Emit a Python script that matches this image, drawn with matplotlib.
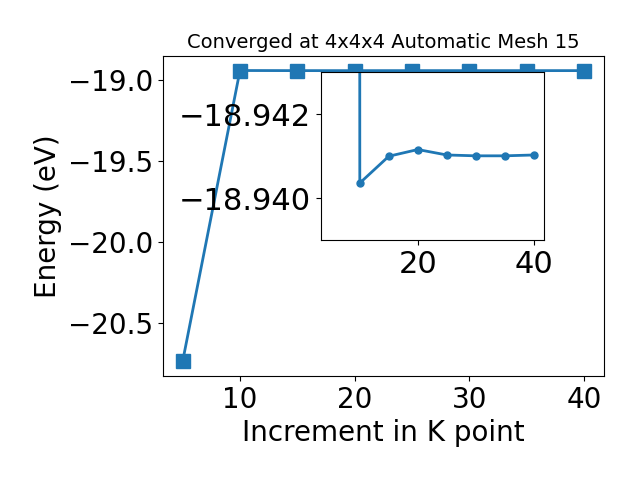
import matplotlib
matplotlib.use("Agg")
import matplotlib.pyplot as plt
from matplotlib.ticker import ScalarFormatter

kpoints = [5, 10, 15, 20, 25, 30, 35, 40]
energy = [-20.738, -18.94036, -18.94100, -18.94116, -18.94103, -18.94101, -18.94101, -18.94103]

fig = plt.figure(figsize=(6.4, 4.8), dpi=100)
ax = fig.add_axes([0.254, 0.2167, 0.69, 0.6667])
ax.plot(kpoints, energy, marker='s', markersize=10, linewidth=2, color='#1f77b4')
ax.set_title("Converged at 4x4x4 Automatic Mesh 15", fontsize=14)
ax.set_xlabel("Increment in K point", fontsize=20)
ax.set_ylabel("Energy (eV)", fontsize=20)
ax.tick_params(labelsize=20)

ins = fig.add_axes([0.501, 0.5, 0.349, 0.349])
ins.plot(kpoints, energy, marker='o', markersize=5, linewidth=2, color='#1f77b4')
ins.set_ylim(-18.939, -18.943)
ins.set_yticks([-18.942, -18.940])
ins.yaxis.set_major_formatter(ScalarFormatter(useOffset=False))
ins.set_xticks([20, 40])
ins.tick_params(labelsize=22)

fig.savefig("out.png", dpi=100)
